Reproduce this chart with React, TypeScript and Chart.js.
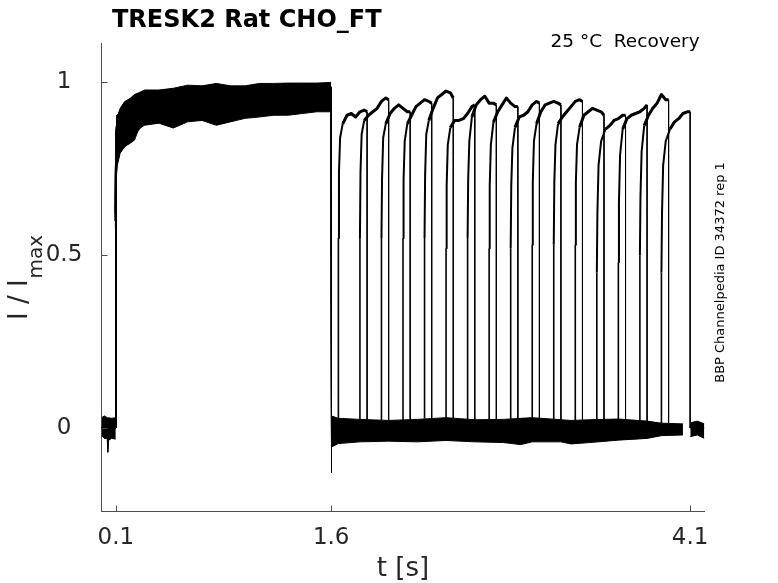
import { useEffect, useRef } from "react"
import { Chart, registerables } from "chart.js"

Chart.register(...registerables)

// protocol: conditioning step 0.1 -> 1.6 s, then a 0.2 s test step at a growing interval
const stepOn = 0.1
const stepOff = 1.6
const testOnsets = [1.65, 1.8, 1.95, 2.1, 2.25, 2.4, 2.55, 2.7, 2.85, 3.0, 3.15, 3.3, 3.45, 3.6, 3.75, 3.9]
const testDuration = 0.2
const tailDuration = 0.1

const xTicks = [0.1, 1.6, 4.1]
const yTicks = [0, 0.5, 1]
const yTickLabels = ["0", "0.5", "1"]

// conditioning pulse of every sweep, read at these times
const condTimes = [0.1, 0.101, 0.11, 0.2, 0.3, 0.6, 1.0, 1.6]
const condLevels = [
  [0.62, 0.8, 0.9, 0.945, 0.96, 0.97, 0.975, 0.98],
  [0.6, 0.79, 0.89, 0.94, 0.955, 0.965, 0.97, 0.975],
  [0.63, 0.81, 0.9, 0.95, 0.96, 0.97, 0.98, 0.985],
  [0.6, 0.78, 0.88, 0.935, 0.95, 0.96, 0.97, 0.975],
  [0.62, 0.8, 0.9, 0.94, 0.955, 0.965, 0.975, 0.98],
  [0.61, 0.79, 0.89, 0.94, 0.95, 0.96, 0.965, 0.97],
  [0.6, 0.8, 0.9, 0.945, 0.96, 0.97, 0.98, 0.985],
  [0.62, 0.8, 0.89, 0.935, 0.945, 0.955, 0.965, 0.97],
  [0.6, 0.79, 0.88, 0.93, 0.95, 0.96, 0.97, 0.975],
  [0.63, 0.81, 0.9, 0.945, 0.955, 0.965, 0.975, 0.98],
  [0.61, 0.8, 0.89, 0.94, 0.955, 0.965, 0.97, 0.975],
  [0.6, 0.79, 0.9, 0.945, 0.96, 0.97, 0.975, 0.98],
  [0.58, 0.74, 0.79, 0.835, 0.885, 0.895, 0.91, 0.925],
  [0.6, 0.78, 0.86, 0.91, 0.93, 0.94, 0.95, 0.96],
  [0.62, 0.8, 0.89, 0.94, 0.95, 0.96, 0.97, 0.975],
  [0.61, 0.8, 0.9, 0.945, 0.955, 0.965, 0.975, 0.98],
]
const offTransient = [-0.06, -0.05, -0.07, -0.13, -0.05, -0.06, -0.08, -0.05, -0.06, -0.07, -0.05, -0.06, -0.04, -0.06, -0.05, -0.07]

// test pulse of every sweep, read at these delays after its onset
const testTimes = [0, 0.004, 0.012, 0.03, 0.06, 0.09, 0.12, 0.15, 0.18, 0.2]
const testLevels = [
  [0.55, 0.74, 0.84, 0.88, 0.905, 0.91, 0.9, 0.915, 0.92, 0.915],
  [0.55, 0.74, 0.85, 0.89, 0.905, 0.915, 0.925, 0.945, 0.955, 0.95],
  [0.55, 0.72, 0.84, 0.88, 0.91, 0.925, 0.935, 0.925, 0.915, 0.915],
  [0.55, 0.72, 0.83, 0.88, 0.905, 0.93, 0.94, 0.95, 0.945, 0.94],
  [0.55, 0.73, 0.85, 0.89, 0.925, 0.955, 0.965, 0.975, 0.97, 0.955],
  [0.52, 0.7, 0.82, 0.87, 0.89, 0.89, 0.895, 0.91, 0.93, 0.935],
  [0.55, 0.72, 0.83, 0.9, 0.935, 0.95, 0.96, 0.94, 0.94, 0.935],
  [0.52, 0.7, 0.82, 0.885, 0.915, 0.935, 0.955, 0.94, 0.93, 0.93],
  [0.52, 0.7, 0.81, 0.87, 0.9, 0.905, 0.915, 0.935, 0.945, 0.94],
  [0.53, 0.71, 0.83, 0.88, 0.915, 0.935, 0.94, 0.945, 0.94, 0.935],
  [0.53, 0.71, 0.82, 0.88, 0.9, 0.915, 0.93, 0.945, 0.95, 0.945],
  [0.53, 0.71, 0.82, 0.87, 0.905, 0.915, 0.925, 0.92, 0.915, 0.905],
  [0.45, 0.62, 0.76, 0.83, 0.865, 0.875, 0.89, 0.895, 0.905, 0.905],
  [0.48, 0.65, 0.79, 0.865, 0.895, 0.905, 0.91, 0.915, 0.925, 0.935],
  [0.5, 0.67, 0.8, 0.875, 0.905, 0.925, 0.94, 0.965, 0.95, 0.95],
  [0.45, 0.62, 0.76, 0.83, 0.865, 0.885, 0.895, 0.91, 0.915, 0.915],
]

// noise envelope of the overlaid sweeps
const preBandT = [0, 0.02, 0.04, 0.044, 0.05, 0.07, 0.0995]
const preBandHi = [0.03, 0.035, 0.03, 0.02, 0.03, 0.028, 0.03]
const preBandLo = [-0.02, -0.03, -0.03, -0.07, -0.035, -0.03, -0.032]

const condBandT = [0.1005, 0.102, 0.11, 0.13, 0.16, 0.2, 0.23, 0.26, 0.3, 0.4, 0.5, 0.6, 0.7, 0.8, 0.9, 1.0, 1.1, 1.2, 1.3, 1.4, 1.5, 1.5995]
const condBandHi = [0.74, 0.84, 0.9, 0.925, 0.944, 0.954, 0.965, 0.97, 0.978, 0.978, 0.983, 0.992, 0.99, 0.997, 0.99, 0.99, 0.997, 0.997, 0.998, 0.998, 0.998, 1.0]
const condBandLo = [0.7, 0.72, 0.76, 0.795, 0.814, 0.824, 0.833, 0.866, 0.876, 0.882, 0.868, 0.886, 0.89, 0.876, 0.886, 0.896, 0.9, 0.905, 0.905, 0.91, 0.915, 0.915]

const restBandT = [1.601, 1.65, 1.8, 2.0, 2.2, 2.4, 2.6, 2.8, 2.92, 3.0, 3.2, 3.27, 3.4, 3.6, 3.8, 3.9, 4.05]
const restBandHi = [0.035, 0.028, 0.025, 0.022, 0.025, 0.03, 0.024, 0.025, 0.028, 0.03, 0.024, 0.022, 0.024, 0.026, 0.02, 0.014, 0.012]
const restBandLo = [-0.055, -0.045, -0.04, -0.038, -0.04, -0.036, -0.04, -0.042, -0.048, -0.04, -0.04, -0.046, -0.042, -0.035, -0.03, -0.022, -0.02]

const tailBandT = [4.101, 4.15, 4.199]
const tailBandHi = [0.015, 0.02, 0.012]
const tailBandLo = [-0.025, -0.02, -0.03]

const zip = (xs: number[], ys: number[]) => xs.map((x, i) => ({ x, y: ys[i] }))

function sweepPoints(i: number) {
  const pts = [{ x: 0, y: 0 }, { x: stepOn, y: 0 }]
  condTimes.forEach((t, j) => pts.push({ x: t, y: condLevels[i][j] }))
  pts.push({ x: stepOff, y: offTransient[i] }, { x: stepOff + 0.004, y: 0 })
  const on = testOnsets[i]
  pts.push({ x: on, y: 0 })
  testTimes.forEach((t, j) => pts.push({ x: on + t, y: testLevels[i][j] }))
  pts.push({ x: on + testDuration, y: 0 }, { x: on + testDuration + tailDuration, y: 0 })
  return pts
}

function bandPair(t: number[], hi: number[], lo: number[]) {
  return [
    { data: zip(t, hi), borderColor: "#000", borderWidth: 1, fill: false },
    { data: zip(t, lo), borderColor: "#000", borderWidth: 1, backgroundColor: "#000", fill: "-1" },
  ]
}

const textPlugin = {
  id: "matlabText",
  afterDraw(chart: any) {
    const { ctx, chartArea, scales } = chart
    const x = scales.x
    const y = scales.y
    ctx.save()
    // inward ticks
    ctx.strokeStyle = "#4d4d4d"
    ctx.lineWidth = 1
    ctx.beginPath()
    xTicks.forEach(v => {
      const px = Math.round(x.getPixelForValue(v)) + 0.5
      ctx.moveTo(px, chartArea.bottom)
      ctx.lineTo(px, chartArea.bottom - 6)
    })
    yTicks.forEach(v => {
      const py = Math.round(y.getPixelForValue(v)) + 0.5
      ctx.moveTo(chartArea.left, py)
      ctx.lineTo(chartArea.left + 6, py)
    })
    ctx.stroke()

    ctx.fillStyle = "#262626"
    ctx.font = '23px "DejaVu Sans"'
    ctx.textAlign = "center"
    ctx.textBaseline = "alphabetic"
    xTicks.forEach(v => ctx.fillText(String(v), x.getPixelForValue(v), 544))
    ctx.textBaseline = "middle"
    yTicks.forEach((v, i) => ctx.fillText(yTickLabels[i], 64, y.getPixelForValue(v)))

    // axis titles
    ctx.textBaseline = "alphabetic"
    ctx.font = '26px "DejaVu Sans"'
    ctx.fillText("t [s]", (chartArea.left + chartArea.right) / 2, 576)

    ctx.save()
    ctx.translate(27, 320)
    ctx.rotate(-Math.PI / 2)
    ctx.textAlign = "left"
    ctx.fillText("I / I", 0, 0)
    const w = ctx.measureText("I / I").width
    ctx.font = '20px "DejaVu Sans"'
    ctx.fillText("max", w + 1, 15)
    ctx.restore()

    // labels
    ctx.fillStyle = "#000"
    ctx.textAlign = "left"
    ctx.font = 'bold 24px "DejaVu Sans"'
    ctx.fillText("TRESK2 Rat CHO_FT", 112, 27)
    ctx.font = '18.5px "DejaVu Sans"'
    ctx.fillText("25 °C  Recovery", 550.5, 46.5)

    ctx.save()
    ctx.translate(724, 272.5)
    ctx.rotate(-Math.PI / 2)
    ctx.textAlign = "center"
    ctx.font = '13px "DejaVu Sans"'
    ctx.fillText("BBP Channelpedia ID 34372 rep 1", 0, 0)
    ctx.restore()

    ctx.restore()
  },
}

const App = () => {
  const canvasRef = useRef<HTMLCanvasElement>(null)
  const chartRef = useRef<Chart>()

  useEffect(() => {
    if (!canvasRef.current) return
    if (chartRef.current) chartRef.current.destroy()

    const sweeps = testOnsets.map((_, i) => ({
      data: sweepPoints(i),
      borderColor: "#000",
      borderWidth: 1,
      fill: false,
      segment: {
        borderWidth: (c: any) => {
          const a = c.p0.parsed
          const b = c.p1.parsed
          if (a.x === b.x) return b.y > a.y ? 1.6 : 1
          if (a.y > 0.85 && b.y > 0.85) return 3
          if (a.y > 0.4 && b.y > 0.4) return 2
          return 1
        },
      },
    }))

    const datasets: any[] = [
      ...sweeps,
      ...bandPair(preBandT, preBandHi, preBandLo),
      ...bandPair(condBandT, condBandHi, condBandLo),
      ...bandPair(restBandT, restBandHi, restBandLo),
      ...bandPair(tailBandT, tailBandHi, tailBandLo),
    ]

    chartRef.current = new Chart(canvasRef.current, {
      type: "line",
      data: { datasets },
      options: {
        animation: false,
        responsive: false,
        maintainAspectRatio: false,
        layout: { padding: { top: 43, right: 73.5, left: 0, bottom: 0 } },
        elements: { point: { radius: 0 }, line: { tension: 0, borderJoinStyle: "round" } },
        plugins: {
          legend: { display: false },
          tooltip: { enabled: false },
        },
        scales: {
          x: {
            type: "linear",
            min: 0,
            max: 4.2,
            grid: { display: false },
            border: { display: true, color: "#4d4d4d", width: 1 },
            ticks: { display: false },
            afterFit: (s: any) => { s.height = 71.5 },
          },
          y: {
            type: "linear",
            min: -0.2415,
            max: 1.114,
            grid: { display: false },
            border: { display: true, color: "#4d4d4d", width: 1 },
            ticks: { display: false },
            afterFit: (s: any) => { s.width = 101.5 },
          },
        },
      },
      plugins: [textPlugin],
    } as any)

    return () => {
      if (chartRef.current) {
        chartRef.current.destroy()
        chartRef.current = undefined
      }
    }
  }, [])

  return (
    <div style={{ position: "absolute", left: 0, top: 0, width: 778, height: 583, background: "#fff" }}>
      <canvas ref={canvasRef} width={778} height={583} />
    </div>
  )
}

export default App
